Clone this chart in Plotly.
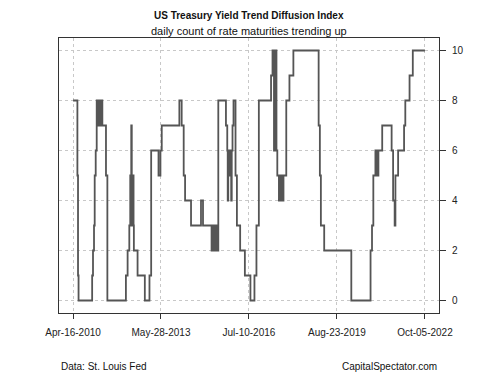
import plotly.graph_objects as go
import pandas as pd

# ---- data (step-change points of the daily index) ----
dates = [
    "2010-04-16", "2010-06-11", "2010-06-19", "2010-06-26",
    "2010-12-19", "2010-12-30", "2011-01-12", "2011-01-21", "2011-02-03", "2011-02-16",
    "2011-03-10", "2011-03-16", "2011-03-23", "2011-03-29", "2011-04-04", "2011-04-11", "2011-04-17", "2011-04-24", "2011-04-30",
    "2011-06-16", "2011-07-04",
    "2012-02-29", "2012-03-22", "2012-04-13",
    "2012-04-25", "2012-05-02", "2012-05-08", "2012-05-15", "2012-05-21", "2012-05-28", "2012-06-03", "2012-06-07",
    "2012-06-11", "2012-07-29", "2012-10-31", "2012-12-30", "2013-01-21", "2013-04-26", "2013-05-21", "2013-06-07",
    "2014-01-21", "2014-02-20", "2014-03-18", "2014-04-05", "2014-06-21", "2014-10-28", "2014-11-23",
    "2015-03-14", "2015-03-21", "2015-03-27", "2015-04-02", "2015-04-09", "2015-04-15", "2015-04-22", "2015-04-28", "2015-05-05", "2015-05-11", "2015-05-18",
    "2015-06-09", "2015-09-16", "2015-10-03",
    "2015-10-09", "2015-10-16", "2015-10-22", "2015-10-28", "2015-11-04", "2015-11-10", "2015-11-17", "2015-11-23", "2015-11-30",
    "2015-12-10", "2015-12-23", "2016-01-18", "2016-02-05", "2016-03-18", "2016-05-18", "2016-07-29", "2016-09-19", "2016-10-15", "2016-11-15",
    "2017-04-22",
    "2017-05-11", "2017-05-17", "2017-05-24", "2017-05-30", "2017-06-06", "2017-06-12", "2017-06-18", "2017-06-25", "2017-07-01", "2017-07-12",
    "2017-08-02", "2017-08-09", "2017-08-15", "2017-08-22", "2017-08-28", "2017-09-04", "2017-09-10", "2017-09-17", "2017-09-23", "2017-09-30",
    "2017-11-05", "2017-12-16", "2018-02-05",
    "2018-12-29", "2019-01-14", "2019-01-27", "2019-03-11", "2020-02-25", "2020-10-31", "2020-11-19", "2020-12-06",
    "2021-01-02", "2021-01-09", "2021-01-15", "2021-01-21", "2021-01-28", "2021-02-03", "2021-02-10",
    "2021-03-31", "2021-07-31", "2021-08-19", "2021-09-08", "2021-09-18", "2021-10-23",
    "2022-01-08", "2022-01-24", "2022-03-20", "2022-05-01", "2022-10-05",
]
values = [
    8, 5, 1, 0,
    1, 2, 3, 5, 6, 8,
    7, 8, 7, 8, 7, 8, 7, 8, 7,
    5, 0,
    1, 2, 3,
    5, 3, 7, 3, 5, 3, 5, 3,
    2, 1, 0, 1, 6, 5, 6, 7,
    8, 7, 5, 4, 3, 4, 3,
    2, 3, 2, 3, 2, 3, 2, 3, 2, 3, 2,
    8, 7, 6,
    4, 6, 5, 6, 5, 6, 5, 4, 6,
    7, 8, 5, 3, 2, 1, 0, 1, 3, 8,
    9,
    10, 9, 10, 6, 10, 9, 6, 10, 6, 5,
    4, 5, 4, 5, 4, 5, 4, 5, 4, 5,
    8, 9, 10,
    7, 5, 3, 2, 0, 2, 3, 5,
    6, 5, 6, 5, 6, 5, 6,
    7, 6, 4, 3, 5, 6,
    7, 8, 9, 10, 10,
]

x_tick_dates = ["2010-04-16", "2013-05-28", "2016-07-10", "2019-08-23", "2022-10-05"]
x_tick_labels = ["Apr-16-2010", "May-28-2013", "Jul-10-2016", "Aug-23-2019", "Oct-05-2022"]
y_ticks = [0, 2, 4, 6, 8, 10]

title_text = "US Treasury Yield Trend Diffusion Index"
subtitle_text = "daily count of rate maturities trending up"
source_text = "Data: St. Louis Fed"
credit_text = "CapitalSpectator.com"

# ---- figure ----
x = pd.to_datetime(dates)
start, end = x.min(), x.max()
pad = (end - start) * 0.04

FONT = "Liberation Sans, Arial, sans-serif"
fig = go.Figure()
fig.add_trace(go.Scatter(
    x=x, y=values, mode="lines", line_shape="hv",
    line=dict(color="#555555", width=1.8), hoverinfo="skip", showlegend=False,
))

fig.update_layout(
    width=500, height=375,
    margin=dict(l=59, r=61, t=38, b=62),
    paper_bgcolor="white", plot_bgcolor="white",
    font=dict(family=FONT, size=10, color="#222222"),
    showlegend=False,
)
fig.update_xaxes(
    range=[start - pad, end + pad],
    tickvals=pd.to_datetime(x_tick_dates), ticktext=x_tick_labels,
    ticks="outside", ticklen=5, tickcolor="#333333", ticklabelstandoff=5,
    showline=True, linecolor="#333333", linewidth=1, mirror=True,
    showgrid=True, gridcolor="#c8c8c8", griddash="dot", gridwidth=1,
    zeroline=False, tickfont=dict(size=10, color="#222222"),
)
fig.update_yaxes(
    range=[-0.5, 10.5], side="right",
    tickvals=y_ticks, ticktext=[str(v) for v in y_ticks],
    ticks="outside", ticklen=6, tickcolor="#333333", ticklabelstandoff=4,
    showline=True, linecolor="#333333", linewidth=1, mirror=True,
    showgrid=True, gridcolor="#c8c8c8", griddash="dot", gridwidth=1,
    zeroline=False, tickfont=dict(size=10, color="#222222"),
)

fig.add_annotation(text="<b>" + title_text + "</b>", xref="paper", yref="paper",
                   x=0.5, y=1.0836, xanchor="center", yanchor="middle", showarrow=False,
                   font=dict(size=10, family=FONT, color="#111111"))
fig.add_annotation(text=subtitle_text, xref="paper", yref="paper",
                   x=0.5, y=1.0255, xanchor="center", yanchor="middle", showarrow=False,
                   font=dict(size=11, family=FONT, color="#111111"))
fig.add_annotation(text=source_text, xref="paper", yref="paper",
                   x=0.0, y=-0.196, xanchor="left", yanchor="middle", showarrow=False,
                   font=dict(size=10, family=FONT, color="#111111"))
fig.add_annotation(text=credit_text, xref="paper", yref="paper",
                   x=1.0, y=-0.196, xanchor="right", yanchor="middle", showarrow=False,
                   font=dict(size=10, family=FONT, color="#111111"))

fig.write_html("out.html", config={"displayModeBar": False},
               post_script="document.body.style.margin='0px';document.body.style.padding='0px';")
